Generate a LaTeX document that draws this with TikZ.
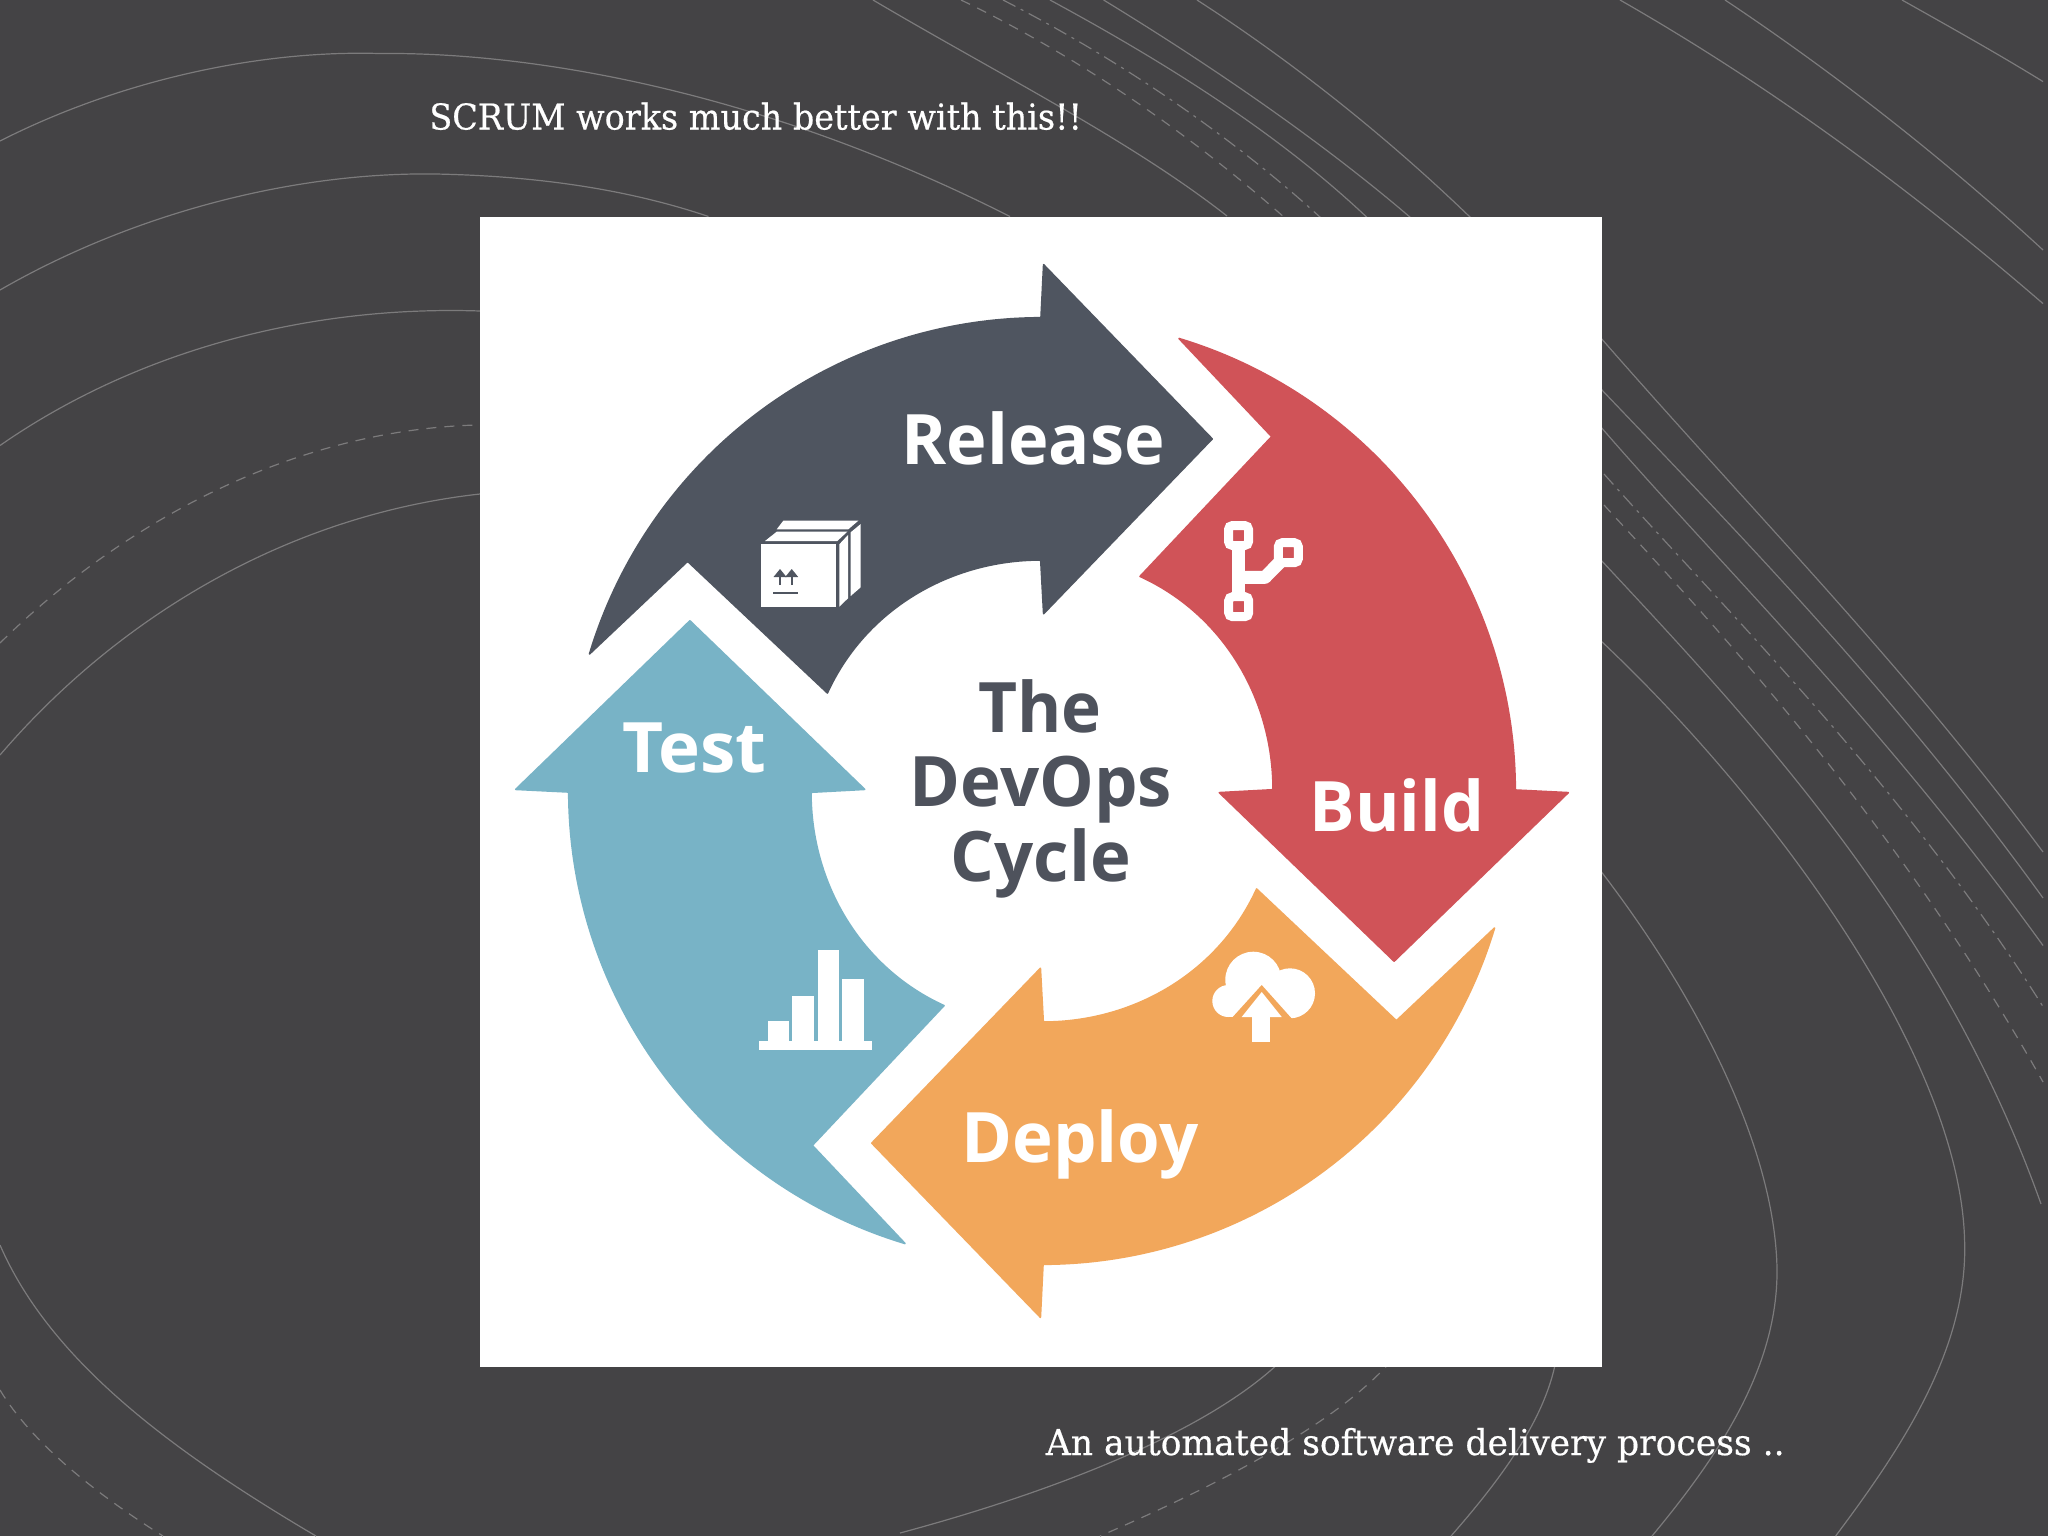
\documentclass[tikz,border=0pt]{standalone}
\usepackage{fontspec}
\usepackage{graphicx}
\newfontfamily\lblfont{Open Sans}
\newfontfamily\slabfont[FakeBold=0.5]{DejaVu Serif}
\definecolor{bgc}{HTML}{444345}
\definecolor{linec}{HTML}{7C7B7C}
\definecolor{relc}{HTML}{4F5560}
\definecolor{bldc}{HTML}{D05358}
\definecolor{depc}{HTML}{F2A75B}
\definecolor{tstc}{HTML}{78B3C6}
\definecolor{txtc}{HTML}{4E525C}
\newcommand{\hs}[2]{\scalebox{#1}[1]{#2}}
\newcommand{\cyclearrow}[2]{%
  \begin{scope}[shift={(1042,791)},rotate=#1,y=0.5pt]
    \path[fill=#2,draw=#2,line width=0.8pt,line join=round]
      (-452.5,137) arc[start angle=163.2,end angle=90.16,radius=473]
      -- (1.6,526.3) -- (170.2,352.1) -- (1.6,177.3) -- (-1.3,231)
      .. controls (-92.5,231) and (-176.8,181) .. (-214.6,98)
      -- (-354.4,229.7) -- cycle;
  \end{scope}}
\tikzset{
  bgline/.style={draw=linec,line width=0.6pt},
  dashline/.style={bgline,dash pattern=on 5pt off 4pt},
  dotline/.style={bgline,dash pattern=on 7pt off 3pt on 1.5pt off 3pt},
  lbl/.style={anchor=base,inner sep=0pt,text=white,font=\lblfont\bfseries\fontsize{34.8}{40}\selectfont},
  ctr/.style={lbl,text=txtc},
  captext/.style={anchor=base west,inner sep=0pt,text=white,font=\slabfont\fontsize{17.8}{22}\selectfont},
}
\begin{document}
\begin{tikzpicture}[x=0.5pt,y=-0.5pt]
\useasboundingbox (0,0) rectangle (2048,1536);
\fill[bgc] (0,0) rectangle (2048,1536);
\begin{scope}
\clip (0,0) rectangle (2048,1536);
% left arcs
\draw[bgline] (0,141) .. controls (120,80) and (260,50) .. (379,53.5) .. controls (520,52) and (750,85) .. (1010,216.5);
\draw[bgline] (0,290) .. controls (130,215) and (290,172) .. (435,174) .. controls (540,176) and (630,190) .. (708.5,216.5);
\draw[bgline] (0,445.5) .. controls (130,355) and (300,305) .. (480,311);
\draw[dashline] (0,643) .. controls (120,525) and (290,430) .. (477,425);
\draw[bgline] (0,755) .. controls (120,615) and (290,515) .. (480,494);
% top lines
\draw[bgline] (873,0) .. controls (1000,75) and (1130,140) .. (1227,216);
\draw[dashline] (961,0) .. controls (1075,55) and (1185,130) .. (1285,218);
\draw[dotline] (1003,0) .. controls (1120,60) and (1230,135) .. (1321,218);
\draw[bgline] (1050,0) .. controls (1170,65) and (1280,135) .. (1367.6,218);
\draw[bgline] (1103.6,0) .. controls (1210,65) and (1320,140) .. (1411,218);
\draw[bgline] (1197,0) .. controls (1290,60) and (1385,135) .. (1471,218);
\draw[bgline] (1620,0) .. controls (1760,80) and (1900,180) .. (2043,303.6);
\draw[bgline] (1725,0) .. controls (1830,70) and (1940,155) .. (2043,250);
\draw[bgline] (1902,0) .. controls (1950,27) and (2000,55) .. (2043,81.6);
% right lines
\draw[bgline] (1600,337) .. controls (1760,520) and (1900,660) .. (2043,852);
\draw[bgline] (1600,388) .. controls (1750,545) and (1900,700) .. (2043,898);
\draw[bgline] (1600,426) .. controls (1720,565) and (1880,720) .. (2043,945.5);
\draw[dotline] (1604,474) .. controls (1720,605) and (1900,780) .. (2043,1006.6);
\draw[dashline] (1604,505) .. controls (1700,610) and (1890,810) .. (2043,1082);
\draw[bgline] (1600,559) .. controls (1750,720) and (1940,920) .. (2041,1204);
\draw[bgline] (1600,640) .. controls (1760,790) and (1960,1050) .. (1964.6,1241) .. controls (1968,1350) and (1900,1450) .. (1835.6,1536);
\draw[bgline] (1600,870) .. controls (1700,1000) and (1775,1150) .. (1777,1269) .. controls (1778,1370) and (1715,1460) .. (1652,1536);
\draw[bgline] (1556,1360) .. controls (1545,1420) and (1500,1480) .. (1451,1536);
\draw[dashline] (1392,1360) .. controls (1340,1420) and (1230,1480) .. (1100,1536);
\draw[bgline] (1282,1360) .. controls (1210,1430) and (1060,1490) .. (900,1533);
% lower left
\draw[bgline] (0,1245) .. controls (50,1360) and (170,1450) .. (316,1536);
\draw[dashline] (0,1390) .. controls (30,1440) and (90,1490) .. (163,1536);
\end{scope}
% picture panel
\fill[white] (480,216.5) rectangle (1601.5,1366.5);
% arrows
\cyclearrow{0}{relc}
\cyclearrow{-90}{bldc}
\cyclearrow{-180}{depc}
\cyclearrow{-270}{tstc}
% labels
\node[lbl] (release) at (1033,464.5) {\hs{0.985}{Release}};
\node[lbl] (test) at (694.5,772.6) {\hs{1.02}{Test}};
\node[lbl] (build) at (1397,831.7) {\hs{0.975}{Build}};
\node[lbl] (deploy) at (1080,1162.7) {\hs{0.99}{Deploy}};
\node[ctr] (the) at (1040,732.4) {\hs{0.97}{The}};
\node[ctr] (devops) at (1041,806.8) {\hs{0.99}{DevOps}};
\node[ctr] (cycle) at (1041,881.4) {\hs{0.99}{Cycle}};
% captions
\node[captext] (title) at (429,129.5) {\hs{0.939}{SCRUM works much better with this!!}};
\node[captext] (foot) at (1045.5,1455) {\hs{0.97}{An automated software delivery process ..}};
% box icon
\fill[white] (760.7,544.3) rectangle (836,607.3);
\fill[white] (765,541) -- (776.7,531.7) -- (847.3,531.7) -- (837.3,541) -- cycle;
\fill[white] (839.3,544.3) -- (848,535) -- (848,598.3) -- (839.3,606.7) -- cycle;
\fill[white] (776.7,529.3) -- (783.3,520.7) -- (858.3,520.7) -- (848.3,529.3) -- cycle;
\fill[white] (850.7,532.3) -- (860.7,524) -- (860.7,587.3) -- (850.7,596) -- cycle;
\draw[relc,line width=1pt] (780,585) -- (780,573);
\draw[relc,line width=1pt] (791.7,585) -- (791.7,573);
\fill[relc] (780,569) -- (773.5,577) -- (786.5,577) -- cycle;
\fill[relc] (791.7,569) -- (785.2,577) -- (798.2,577) -- cycle;
\draw[relc,line width=1.2pt] (773,592.7) -- (798,592.7);
% branch icon
\draw[white,line width=6.5pt] (1238.7,540) -- (1238.7,600);
\draw[white,line width=6.5pt,line join=round] (1238.7,577.3) -- (1265,577.3) -- (1282,560);
\draw[white,line width=4.5pt,fill=bldc,rounded corners=2pt] (1228.5,525.5) rectangle (1248.5,545.5);
\draw[white,line width=4.5pt,fill=bldc,rounded corners=2pt] (1278.3,542.7) rectangle (1298.3,562.7);
\draw[white,line width=4.5pt,fill=bldc,rounded corners=2pt] (1228.7,596.7) rectangle (1248.7,616.7);
% bar icon
\fill[white] (767.7,1020.7) rectangle (789,1042);
\fill[white] (792.3,995.7) rectangle (813.7,1042);
\fill[white] (817.7,950) rectangle (839,1042);
\fill[white] (842.3,979) rectangle (863.7,1042);
\fill[white] (759,1041) rectangle (871.7,1050);
% cloud icon
\fill[white] (1253.3,979.7) circle[radius=28];
\fill[white] (1290,993.3) circle[radius=25];
\fill[white] (1228.3,1001) circle[radius=16];
\fill[white] (1228.3,995) rectangle (1295,1017.3);
\fill[depc] (1230,1020) -- (1261.7,985) -- (1293,1020) -- cycle;
\fill[white] (1241.7,1017) -- (1261.7,992) -- (1281.7,1017) -- cycle;
\fill[white] (1252.3,1016) rectangle (1270,1041.7);
\end{tikzpicture}
\end{document}
